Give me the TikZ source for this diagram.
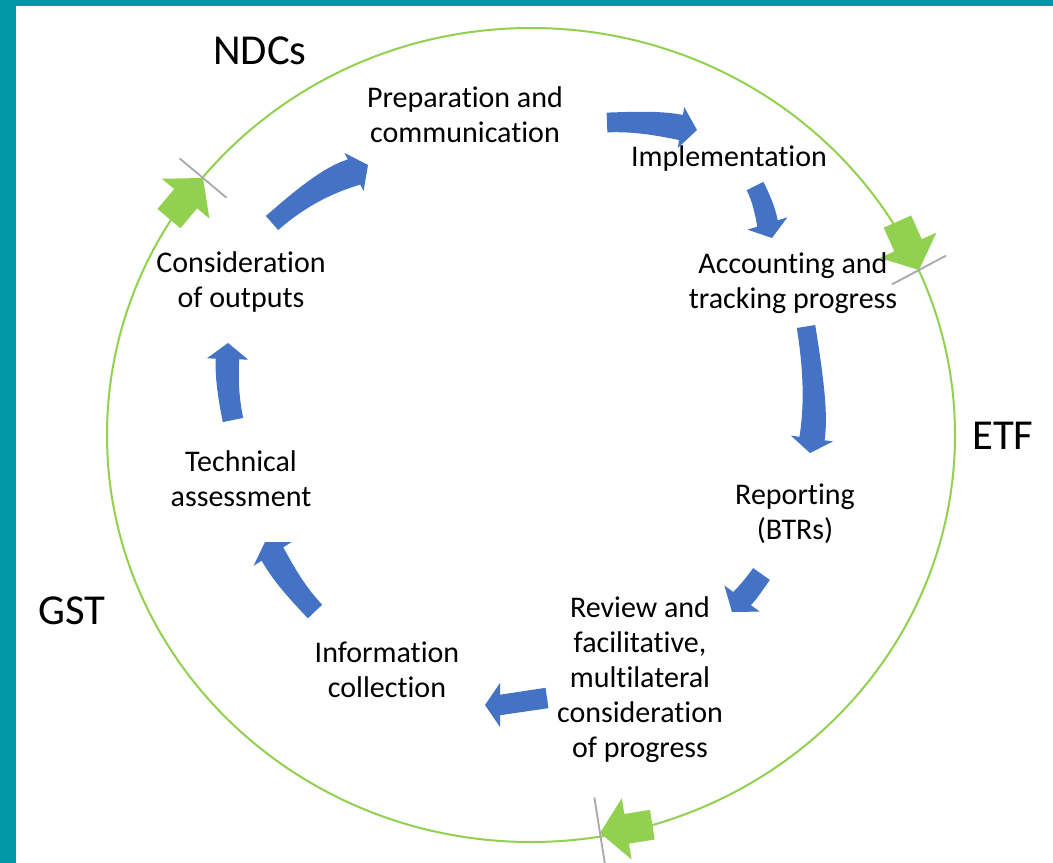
\documentclass[tikz,border=0pt]{standalone}
\usepackage{fontspec}
\setmainfont{Carlito}[Ligatures={NoCommon}]
\usetikzlibrary{calc}
\definecolor{frameteal}{RGB}{0,151,167}
\definecolor{ringgreen}{RGB}{146,208,80}
\definecolor{arrowblue}{RGB}{68,114,196}
\definecolor{tickgray}{RGB}{170,170,170}

% curved block arrow: #1 name, #2 tail centre, #3 control, #4 head base centre, #5 tip,
% #6 half tail width, #7 half shaft width at head, #8 half head width
\newcommand\bluearrow[8]{%
  \coordinate (#1a) at #2;
  \coordinate (#1c) at #3;
  \coordinate (#1b) at #4;
  \coordinate (#1t) at #5;
  \coordinate (#1al) at ($(#1a)!#6!90:(#1c)$);
  \coordinate (#1ar) at ($(#1a)!#6!-90:(#1c)$);
  \coordinate (#1bl) at ($(#1b)!#7!90:(#1t)$);
  \coordinate (#1br) at ($(#1b)!#7!-90:(#1t)$);
  \coordinate (#1hl) at ($(#1b)!#8!90:(#1t)$);
  \coordinate (#1hr) at ($(#1b)!#8!-90:(#1t)$);
  \fill[bluearr] (#1al)
    .. controls ($(#1al)+0.667*(#1c)-0.667*(#1a)$) and ($(#1bl)+0.667*(#1c)-0.667*(#1b)$) .. (#1bl)
    -- (#1hl) -- (#1t) -- (#1hr) -- (#1br)
    .. controls ($(#1br)+0.667*(#1c)-0.667*(#1b)$) and ($(#1ar)+0.667*(#1c)-0.667*(#1a)$) .. (#1ar)
    -- cycle;
}
% green block arrow on the ring: #1 name, #2 tip, #3 direction angle
\newcommand\greenarrow[3]{%
  \coordinate (#1) at #2;
  \fill[greenarr, shift={#2}, rotate=#3]
    (0,0) -- (-27,-31) -- (-27,-15) -- (-53,-15) -- (-53,15) -- (-27,15) -- (-27,31) -- cycle;
}

\begin{document}
\begin{tikzpicture}[x=0.75pt,y=-0.75pt,
  lbl/.style={inner sep=0pt, align=center, text=black,
    font=\fontsize{22.5}{26.25}\selectfont},
  phase/.style={inner sep=0pt, text=black, font=\fontsize{32}{38}\selectfont},
  bluearr/.style={fill=arrowblue},
  greenarr/.style={fill=ringgreen},
  tickline/.style={draw=tickgray, line width=1.4pt},
  ring/.style={draw=ringgreen, line width=1.5pt}]

\useasboundingbox (0,0) rectangle (1053,863);
\fill[white] (0,0) rectangle (1053,863);
% frame
\fill[frameteal] (0,0) rectangle (1053,6);
\fill[frameteal] (0,0) rectangle (16,863);

% ring
\draw[ring] (531,435) ellipse [x radius=318pt, y radius=305.25pt];

% green arrows on the ring
\greenarrow{g1}{(203,178)}{50}
\greenarrow{g2}{(919,270)}{-66}
\greenarrow{g3}{(600,833)}{189}

% ticks
\draw[tickline] ($(g1)+(140:23pt)$) -- ($(g1)+(-40:23pt)$);
\draw[tickline] ($(g2)+(28:23pt)$) -- ($(g2)+(208:23pt)$);
\draw[tickline] ($(g3)+(99:27pt)$) -- ($(g3)+(-81:27pt)$);

% labels
\node[phase] (ndc) at (260,51) {NDCs};
\node[phase] (etf) at (1003,436) {ETF};
\node[phase] (gst) at (72,611) {GST};

\node[lbl] (prep) at (465,115) {Preparation and\\communication};
\node[lbl] (impl) at (729,159) {Implementation};
\node[lbl] (acct) at (793,283) {Accounting and\\tracking progress};
\node[lbl] (rep)  at (795,514) {Reporting\\(BTRs)};
\node[lbl] (rev)  at (640,680) {Review and\\facilitative,\\multilateral\\consideration\\of progress};
\node[lbl] (info) at (387,670) {Information\\collection};
\node[lbl] (tech) at (241,479) {Technical\\assessment};
\node[lbl] (cons) at (241,282) {Consideration\\of outputs};

% blue process arrows
\bluearrow{b1}{(272,223)}{(318,183)}{(354,172)}{(368,165)}{7pt}{10.5pt}{16pt}
\bluearrow{b2}{(607,122.5)}{(649,121)}{(681,127.5)}{(697,130)}{7.4pt}{9.5pt}{15.5pt}
\bluearrow{b3}{(755,186)}{(764,204)}{(767.5,223.5)}{(772,238)}{7pt}{8pt}{15.6pt}
\bluearrow{b4}{(806,326.5)}{(818,401)}{(812,438.5)}{(810,453)}{7pt}{9.5pt}{16pt}
\bluearrow{b5}{(761.5,574)}{(748,593)}{(742,598.5)}{(732,612)}{7.7pt}{8.3pt}{16.5pt}
\bluearrow{b6}{(547,698)}{(523,701.5)}{(500,705)}{(485,705)}{7.7pt}{7.7pt}{16.5pt}
\bluearrow{b7}{(315,611.5)}{(289,584)}{(272.5,554)}{(265,542)}{7.4pt}{9.5pt}{16.8pt}
\bluearrow{b8}{(233,420)}{(226,386)}{(227.5,359)}{(228,343)}{7.8pt}{8.8pt}{15.5pt}

\end{tikzpicture}
\end{document}
